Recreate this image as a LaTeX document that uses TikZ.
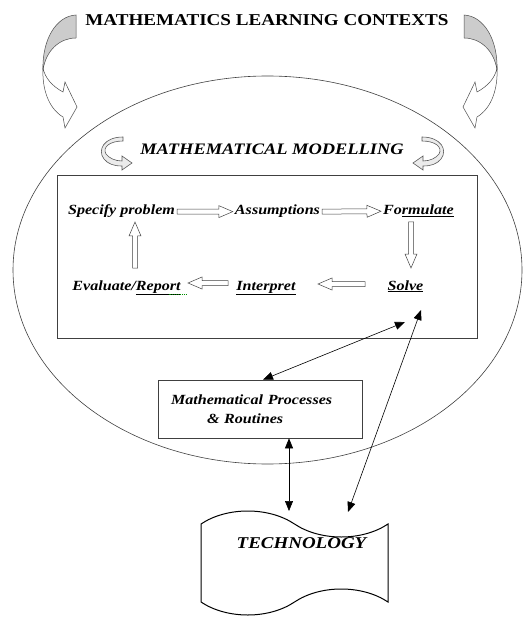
\documentclass[tikz,border=0pt]{standalone}
\usepackage{fontspec}
\setmainfont{Liberation Serif}[FakeStretch=1.15]
\usetikzlibrary{arrows.meta,calc,positioning,shapes.symbols}

\tikzset{
  frame/.style={draw=black!75, line width=0.6pt},
  heading/.style={font=\fontsize{16.6}{19}\selectfont\bfseries, inner sep=1pt},
  subheading/.style={font=\fontsize{16}{19}\selectfont\bfseries\itshape, inner sep=1pt},
  stage/.style={font=\fontsize{14}{16}\selectfont\bfseries\itshape, inner sep=2pt},
  blockarr/.style={draw=black!75, fill=white, line width=0.5pt},
  link/.style={{Triangle[length=10pt,width=8pt]}-{Triangle[length=10pt,width=8pt]}, line width=0.6pt},
  bendback/.style={draw=black!70, fill=black!20, line width=0.5pt},
  bendfront/.style={draw=black!70, fill=white, line width=0.5pt},
  bendsmall/.style={draw=black!65, fill=black!8, line width=0.6pt},
  spellmark/.style={green!55!black, densely dotted, line width=0.9pt},
  bigbend/.pic={
    \draw[bendback] (76,15) .. controls (56,16) and (42,40) .. (43,70)
      .. controls (46,50) and (60,38) .. (76,38) -- cycle;
    \draw[bendfront] (43,68) .. controls (42,88) and (48,108) .. (63,117)
      -- (65,128) -- (77,107) -- (65,82) -- (63,92)
      .. controls (52,86) and (45,78) .. (43,68) -- cycle;
  },
  smallbend/.pic={
    \draw[bendsmall] (123,137) .. controls (104,137) and (97,150) .. (104,159)
      .. controls (108,164) and (114,166) .. (122,166) -- (122,170) -- (132,163)
      -- (122,156) -- (122,161) .. controls (115,161) and (109,158) .. (106,154)
      .. controls (102,147) and (110,141) .. (123,141) -- cycle;
  }
}

% hollow block arrow from #1 to #2
\newcommand{\hollowarrow}[2]{%
  \coordinate (ha) at ($(#2)!14pt!(#1)$);
  \draw[blockarr] ($(#1)!2.5pt!90:(#2)$) -- ($(ha)!2.5pt!90:(#2)$) -- ($(ha)!6pt!90:(#2)$) -- (#2)
    -- ($(ha)!6pt!-90:(#2)$) -- ($(ha)!2.5pt!-90:(#2)$) -- ($(#1)!2.5pt!-90:(#2)$) -- cycle;}

\begin{document}
\begin{tikzpicture}[x=1pt,y=-1pt]
  \useasboundingbox (0,0) rectangle (523,617);

  % learning contexts
  \draw[frame] (267.5,270) ellipse [x radius=254.5, y radius=194];
  \node[heading, anchor=base] (ctx) at (267,26) {MATHEMATICS LEARNING CONTEXTS};
  \pic at (0,0) {bigbend};
  \pic[xscale=-1] at (540,0) {bigbend};

  % modelling cycle
  \node[subheading, anchor=base] (model) at (272,155) {MATHEMATICAL MODELLING};
  \pic at (0,0) {smallbend};
  \pic[xscale=-1] at (545,0) {smallbend};
  \node[frame, minimum width=420, minimum height=163] (cyclebox) at (267,256.5) {};

  \node[stage, anchor=base] (spec) at (121.5,215) {Specify problem};
  \node[stage, anchor=base] (assum) at (277.5,215) {Assumptions};
  \node[stage, anchor=base] (form) at (418.5,215) {Fo\underline{rmulate}};
  \node[stage, anchor=base] (solve) at (405.5,290) {\underline{Solve}};
  \node[stage, anchor=base] (interp) at (266,290) {\underline{Interpret}};
  \node[stage, anchor=base] (evalr) at (126.5,290) {Evaluate/\underline{Report}};
  \draw[spellmark] ($(evalr.base)+(42,4)$) -- ($(evalr.base)+(60,4)$);

  \coordinate (f1) at ($(form.base)+(-7.5,7)$);
  \coordinate (f2) at ($(form.base)+(-7.5,53)$);
  \coordinate (s1) at ($(solve.base)+(-40.5,-6)$);
  \coordinate (i1) at ($(interp.base)+(52,-6)$);
  \coordinate (i2) at ($(interp.base)+(-38,-7)$);
  \coordinate (e1) at ($(evalr.base)+(61.5,-7)$);
  \coordinate (e2) at ($(evalr.base)+(8.5,-22)$);
  \coordinate (p1) at ($(spec.base)+(13.5,7)$);

  \hollowarrow{spec.east}{assum.west}
  \hollowarrow{assum.east}{form.west}
  \hollowarrow{f1}{f2}
  \hollowarrow{s1}{i1}
  \hollowarrow{i2}{e1}
  \hollowarrow{e2}{p1}

  % processes and technology
  \node[frame, minimum width=204, minimum height=58, text width=178, inner xsep=13pt,
    align=left, font=\fontsize{14}{19}\selectfont\bfseries\itshape] (proc) at (260,409)
    {Mathematical Processes\\\hspace*{36pt}\& Routines};
  \node[tape, draw, line width=1pt, minimum width=187, minimum height=104,
    tape bend top=out and in, tape bend bottom=in and out, tape bend height=26pt] (tech) at (294.5,563) {};
  \node[anchor=base, font=\fontsize{16.5}{19}\selectfont\bfseries\itshape] (techtext) at (301.5,548) {TECHNOLOGY};

  \coordinate (solvetip) at ($(solve.base)+(-0.5,32)$);
  \coordinate (solvetip2) at ($(solve.base)+(15.5,20)$);
  \coordinate (techtip) at ($(techtext.base)+(46.5,-36)$);
  \coordinate (techtop) at ($(techtext.base)+(-12.5,-37)$);

  \draw[link] ([xshift=3pt]proc.north) -- (solvetip);
  \draw[link] (solvetip2) -- (techtip);
  \draw[link] (proc.south -| techtop) -- (techtop);
\end{tikzpicture}
\end{document}
